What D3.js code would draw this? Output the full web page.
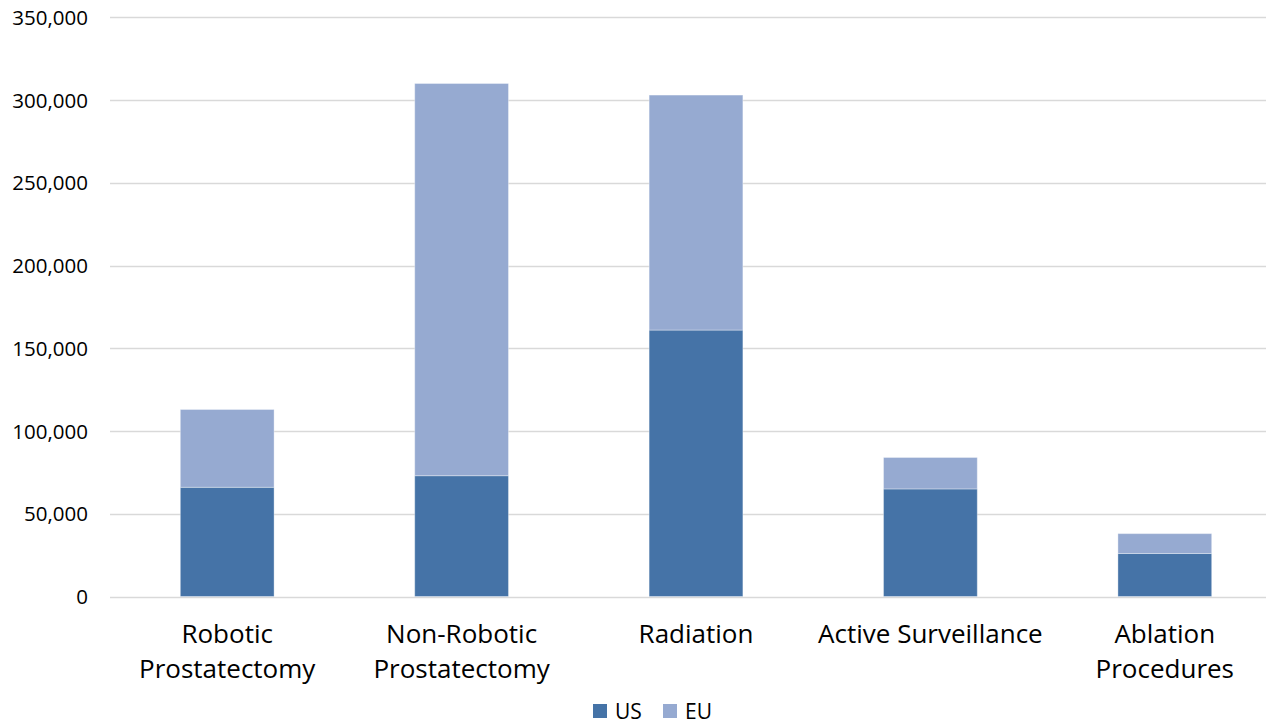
<!DOCTYPE html>
<html>
<head>
<meta charset="utf-8">
<script src="https://cdn.jsdelivr.net/npm/d3@7"></script>
<style>
  html, body { margin: 0; padding: 0; background: #fff; }
  text { font-family: "Open Sans", Lato, sans-serif; fill: #000; }
</style>
</head>
<body>
<svg id="chart" width="1266" height="724"></svg>
<script>
// Treatment volumes by procedure type, stacked US + EU
const categories = [
  ["Robotic", "Prostatectomy"],
  ["Non-Robotic", "Prostatectomy"],
  ["Radiation"],
  ["Active Surveillance"],
  ["Ablation", "Procedures"]
];
const usValues = [66000, 73000, 161000, 65000, 26000];
const euValues = [47000, 237000, 142000, 19000, 12000];
const seriesNames = ["US", "EU"];
const yTicks = [0, 50000, 100000, 150000, 200000, 250000, 300000, 350000];

const colors = { US: "#4573A7", EU: "#96AAD1" };

const svg = d3.select("#chart");
const margin = { left: 110, right: -16, top: 17.3, bottom: 127.5 };
const W = 1266, H = 724;

const x = d3.scaleBand()
  .domain(d3.range(categories.length))
  .range([margin.left, W - margin.right])
  .paddingInner(0.6)
  .paddingOuter(0.3);

const y = d3.scaleLinear()
  .domain([0, 350000])
  .range([H - margin.bottom, margin.top]);

// gridlines
svg.append("g")
  .selectAll("line")
  .data(yTicks)
  .join("line")
  .attr("x1", margin.left)
  .attr("x2", W)
  .attr("y1", d => Math.round(y(d)) + 0.5)
  .attr("y2", d => Math.round(y(d)) + 0.5)
  .attr("stroke", "#D9D9D9")
  .attr("stroke-width", 1.5);

// y axis labels
const fmt = d3.format(",");
const yAxis = d3.axisLeft(y).tickValues(yTicks).tickFormat(fmt).tickSize(0).tickPadding(0);
const yg = svg.append("g").attr("transform", "translate(88,0)").call(yAxis);
yg.select(".domain").remove();
yg.selectAll("text")
  .style("font-size", "20.5px")
  .style("font-family", "'Open Sans', Lato, sans-serif")
  .attr("fill", "#000")
  .attr("dy", "0.35em");

// stacked bars
const rows = categories.map((c, i) => ({ i, US: usValues[i], EU: euValues[i] }));
const stack = d3.stack().keys(seriesNames)(rows);

svg.append("g")
  .selectAll("g")
  .data(stack)
  .join("g")
  .attr("fill", d => colors[d.key])
  .selectAll("rect")
  .data(d => d)
  .join("rect")
  .attr("x", d => x(d.data.i))
  .attr("width", x.bandwidth())
  .attr("y", d => y(d[1]))
  .attr("height", d => y(d[0]) - y(d[1]))
  .attr("stroke", "rgba(255,255,255,0.35)")
  .attr("stroke-width", 1);

// category labels
const xg = svg.append("g");
categories.forEach((lines, i) => {
  const t = xg.append("text")
    .attr("x", x(i) + x.bandwidth() / 2)
    .attr("y", 643)
    .attr("text-anchor", "middle")
    .style("font-size", "26px");
  lines.forEach((ln, k) => {
    t.append("tspan")
      .attr("x", x(i) + x.bandwidth() / 2)
      .attr("dy", k === 0 ? 0 : 35)
      .text(ln);
  });
});

// legend
const legend = svg.append("g").attr("transform", "translate(593,704)");
const legendItems = [
  { key: "US", dx: 0 },
  { key: "EU", dx: 70 }
];
legendItems.forEach(it => {
  legend.append("rect")
    .attr("x", it.dx).attr("y", 0)
    .attr("width", 14).attr("height", 14)
    .attr("fill", colors[it.key]);
  legend.append("text")
    .attr("x", it.dx + 22).attr("y", 7)
    .attr("dy", "0.36em")
    .style("font-size", "21px")
    .text(it.key);
});
</script>
</body>
</html>
